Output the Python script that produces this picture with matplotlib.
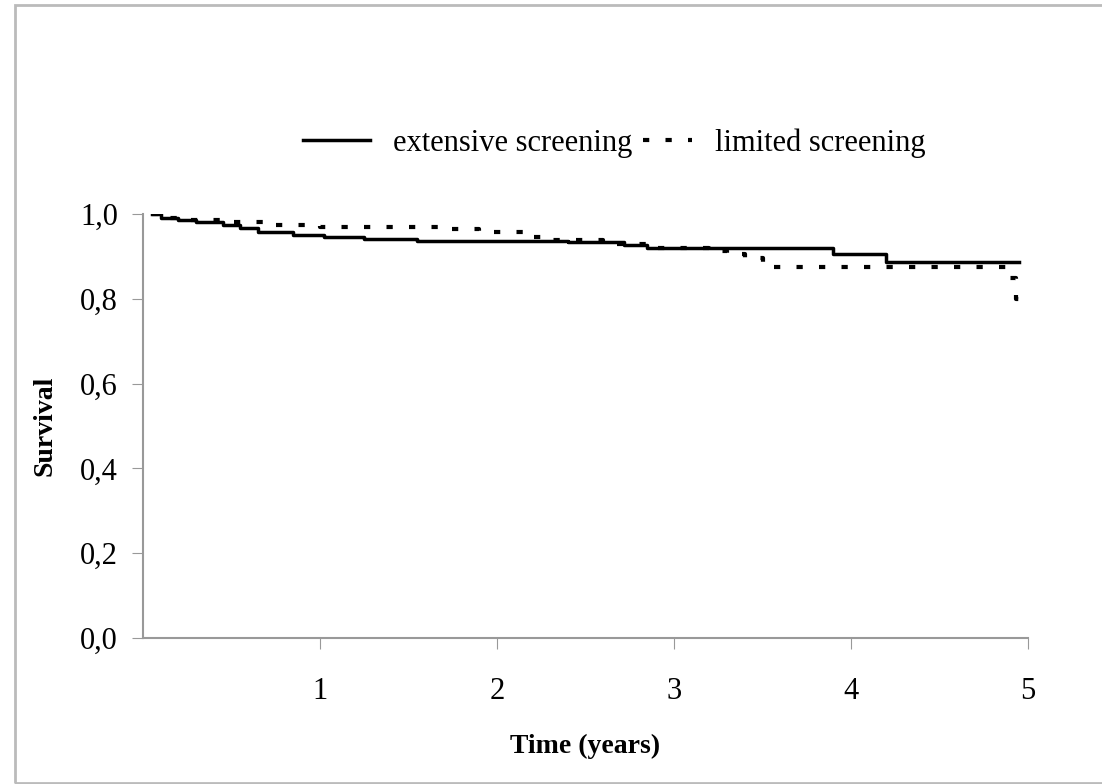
import matplotlib.pyplot as plt
from matplotlib.patches import Rectangle

# Kaplan-Meier style step curves (time in years, survival)
ext_t = [0.05, 0.1, 0.2, 0.3, 0.45, 0.55, 0.65, 0.85, 1.02, 1.25, 1.55, 2.4, 2.72, 2.85, 3.9, 4.2, 4.95]
ext_s = [1.0, 0.99, 0.985, 0.98, 0.975, 0.968, 0.958, 0.95, 0.946, 0.941, 0.937, 0.934, 0.926, 0.92, 0.906, 0.887, 0.887]

lim_t = [0.05, 0.1, 0.25, 0.5, 0.75, 1.0, 1.7, 1.9, 2.17, 2.3, 2.6, 2.9, 3.2, 3.3, 3.4, 3.5, 3.55, 4.9, 4.93, 4.95]
lim_s = [1.0, 0.99, 0.985, 0.981, 0.974, 0.969, 0.965, 0.958, 0.945, 0.938, 0.93, 0.92, 0.912, 0.905, 0.897, 0.885, 0.875, 0.85, 0.80, 0.78]

xticks = [1, 2, 3, 4, 5]
yticks = [0.0, 0.2, 0.4, 0.6, 0.8, 1.0]
ylabels = ["0,0", "0,2", "0,4", "0,6", "0,8", "1,0"]

plt.rcParams['font.family'] = ['Liberation Serif', 'DejaVu Serif']

fig = plt.figure(figsize=(11.02, 7.84), dpi=100)
W, H = 1102, 784
ax = fig.add_axes([143/W, 1-638/H, (1028-143)/W, (638-214)/H])

l1, = ax.step(ext_t, ext_s, where='post', color='black', lw=2.5)
l2, = ax.step(lim_t, lim_s, where='post', color='black', lw=3, dashes=(1.5, 3.9))

ax.set_xlim(0, 5)
ax.set_ylim(0, 1.0)
ax.set_xticks(xticks)
ax.set_xticklabels([str(x) for x in xticks], fontsize=22)
ax.set_yticks(yticks)
ax.set_yticklabels(ylabels, fontsize=22)
ax.tick_params(axis='x', length=8, color='#999999', pad=20)
ax.tick_params(axis='y', length=8, color='#999999', pad=10)
for s in ['top', 'right']:
    ax.spines[s].set_visible(False)
for s in ['left', 'bottom']:
    ax.spines[s].set_color('#999999')
    ax.spines[s].set_linewidth(1.5)

ax.set_xlabel('Time (years)', fontsize=20, fontweight='bold', labelpad=20)
ax.set_ylabel('Survival', fontsize=20, fontweight='bold', labelpad=16)

# two one-entry legends so each handle can have its own length
leg1 = fig.legend([l1], ['extensive screening'], loc='center left',
                  bbox_to_anchor=(303/W, 1-143/H), frameon=False, fontsize=22,
                  handlelength=2.2, handletextpad=0.75, borderpad=0, borderaxespad=0)
leg2 = fig.legend([l2], ['limited screening'], loc='center left',
                  bbox_to_anchor=(643/W, 1-143/H), frameon=False, fontsize=22,
                  handlelength=1.6, handletextpad=0.75, borderpad=0, borderaxespad=0)

fig.patches.append(Rectangle((15/W, 1/H), 1.2, 1-6/H, transform=fig.transFigure,
                             fill=False, edgecolor='#bbbbbb', lw=2))

fig.savefig('out.png', dpi=100)
